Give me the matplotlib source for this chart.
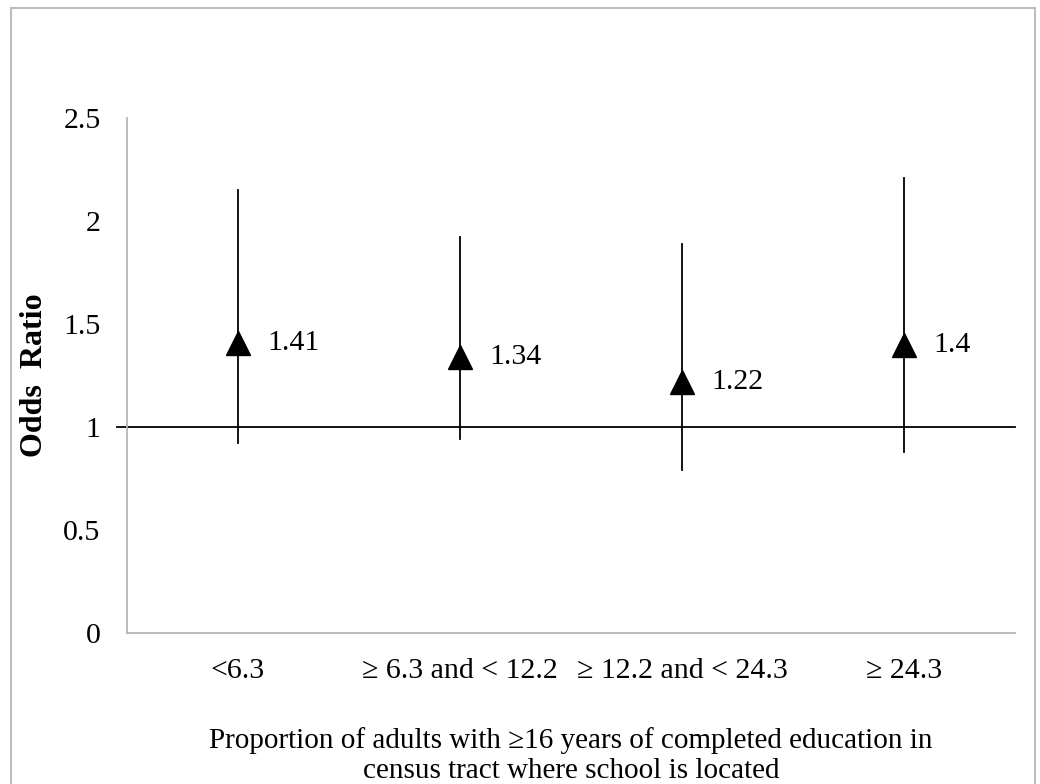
import matplotlib
matplotlib.use("Agg")
import matplotlib.pyplot as plt
from matplotlib.patches import Rectangle

plt.rcParams['font.family'] = ['Liberation Serif', 'DejaVu Serif']

categories = ["<6.3", "\u2265 6.3 and < 12.2", "\u2265 12.2 and < 24.3", "\u2265 24.3"]
odds_ratio = [1.41, 1.34, 1.22, 1.40]
ci_lower = [0.92, 0.94, 0.79, 0.88]
ci_upper = [2.15, 1.92, 1.89, 2.21]
value_labels = ["1.41", "1.34", "1.22", "1.4"]
y_ticks = [0, 0.5, 1, 1.5, 2, 2.5]
y_tick_labels = ["0", "0.5", "1", "1.5", "2", "2.5"]

W, H = 1040, 784
fig = plt.figure(figsize=(W / 100, H / 100), dpi=100)
ax = fig.add_axes([127 / W, 1 - 633 / H, 888 / W, 515 / H])

xs = [i + 0.5 for i in range(len(categories))]
ax.set_xlim(0, len(categories))
ax.set_ylim(0, 2.5)

# reference line at OR = 1
ax.plot([-0.045, len(categories)], [1, 1], color='black', lw=1.3, clip_on=False, zorder=2)

for x, o, lo, hi, lab in zip(xs, odds_ratio, ci_lower, ci_upper, value_labels):
    ax.plot([x, x], [lo, hi], color='black', lw=1.3, zorder=3)
    ax.plot([x], [o], marker='^', markersize=17, color='black', zorder=4, clip_on=False)
    ax.annotate(lab, (x, o), xytext=(21, 0), textcoords='offset points',
                ha='left', va='center', fontsize=21.5)

for side in ['top', 'right']:
    ax.spines[side].set_visible(False)
for side in ['left', 'bottom']:
    ax.spines[side].set_color('#b5b5b5')
    ax.spines[side].set_linewidth(1.3)

ax.set_yticks(y_ticks)
ax.set_yticklabels(y_tick_labels, fontsize=21.5)
ax.set_xticks(xs)
ax.set_xticklabels(categories, fontsize=21.5)
ax.tick_params(axis='y', length=0, pad=19)
ax.tick_params(axis='x', length=0, pad=18)

fig.text(35 / W, 1 - 375 / H, "Odds  Ratio", rotation=90, ha='center', va='center',
         fontsize=23, fontweight='bold')
fig.text(571 / W, 1 - 741 / H,
         "Proportion of adults with \u226516 years of completed education in",
         ha='center', va='center', fontsize=21)
fig.text(571 / W, 1 - 771 / H,
         "census tract where school is located",
         ha='center', va='center', fontsize=21)

fig.add_artist(Rectangle((11 / W, -0.01), (1035 - 11) / W, 1 - 8 / H + 0.01,
                         transform=fig.transFigure, fill=False, edgecolor='#bdbdbd', lw=1.5))

fig.savefig("out.png", dpi=100)
